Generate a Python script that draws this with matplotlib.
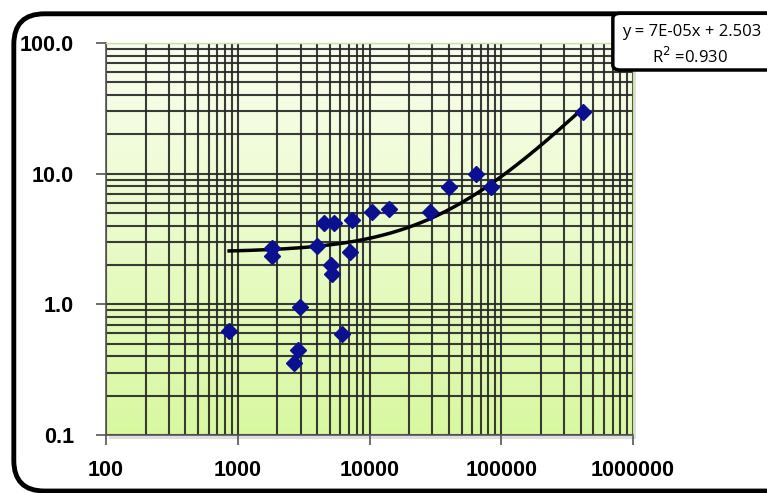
import numpy as np
import matplotlib
matplotlib.use('Agg')
from matplotlib import pyplot as plt
from matplotlib.patches import FancyBboxPatch, Rectangle
from matplotlib.ticker import FixedLocator, LogLocator, NullFormatter

# values
x_vals = [860, 1820, 1820, 2970, 2870, 2670, 4000, 4520, 5380, 5100, 5150,
          7370, 7110, 6180, 10450, 14060, 28800, 40100, 64300, 83600, 417000]
y_vals = [0.625, 2.70, 2.35, 0.955, 0.448, 0.356, 2.80, 4.2, 4.2, 2.0, 1.71,
          4.42, 2.52, 0.594, 5.09, 5.37, 5.09, 7.91, 9.95, 7.91, 29.6]

slope = 7e-05
intercept = 2.503
r2_text = '0.930'

x_ticks = [100, 1000, 10000, 100000, 1000000]
x_labels = ['100', '1000', '10000', '100000', '1000000']
y_ticks = [0.1, 1.0, 10.0, 100.0]
y_labels = ['0.1', '1.0', '10.0', '100.0']


def main():
    plt.rcParams['font.family'] = ['Liberation Sans', 'DejaVu Sans']

    fig = plt.figure(figsize=(7.67, 4.93), dpi=100)
    ax = fig.add_axes([0.1382, 0.1176, 0.6871, 0.7952])
    ax.set_zorder(2)

    # shadow behind the plot area
    fig.patches.append(Rectangle((0.1382 + 0.004, 0.1176 - 0.008), 0.6871, 0.7952,
                                 transform=fig.transFigure, facecolor='#c8c8c8',
                                 edgecolor='none', alpha=0.6, zorder=1))

    # green gradient background
    grad = np.linspace(0, 1, 256).reshape(-1, 1)
    top = np.array([250, 254, 240]) / 255
    bottom = np.array([216, 248, 160]) / 255
    img = bottom + (top - bottom) * grad
    img = img.reshape(256, 1, 3)
    ax.imshow(img, extent=[0, 1, 0, 1], transform=ax.transAxes, aspect='auto',
              origin='lower', zorder=0)

    ax.set_xscale('log')
    ax.set_yscale('log')
    ax.set_xlim(100, 1000000)
    ax.set_ylim(0.1, 100)

    ax.xaxis.set_major_locator(FixedLocator(x_ticks))
    ax.yaxis.set_major_locator(FixedLocator(y_ticks))
    ax.set_xticklabels(x_labels)
    ax.set_yticklabels(y_labels)
    ax.xaxis.set_minor_locator(LogLocator(base=10, subs=np.arange(2, 10)))
    ax.yaxis.set_minor_locator(LogLocator(base=10, subs=np.arange(2, 10)))
    ax.xaxis.set_minor_formatter(NullFormatter())
    ax.yaxis.set_minor_formatter(NullFormatter())

    ax.grid(True, which='both', color='#262626', linewidth=1.5, alpha=0.9)
    ax.tick_params(which='major', length=7, width=1.2, color='#555555',
                   labelsize=15.5)
    ax.tick_params(axis='x', which='major', pad=11)
    ax.tick_params(axis='y', which='major', pad=16)
    ax.tick_params(which='minor', length=0)
    for lab in ax.get_xticklabels() + ax.get_yticklabels():
        lab.set_fontweight('bold')

    for side in ['top', 'right']:
        ax.spines[side].set_color('#c8e49a')
        ax.spines[side].set_linewidth(1)
    for side in ['left', 'bottom']:
        ax.spines[side].set_color('#555555')
        ax.spines[side].set_linewidth(1.2)

    # linear trendline drawn on the log axes
    xt = np.logspace(np.log10(min(x_vals)), np.log10(max(x_vals)), 200)
    ax.plot(xt, slope * xt + intercept, color='black', linewidth=2.5, zorder=3)

    ax.plot(x_vals, y_vals, linestyle='none', marker='D', markersize=8,
            color='#0a1090', markeredgecolor='#0a1090', zorder=4)

    # rounded chart border
    fig.patches.append(FancyBboxPatch((0.018, 0.004), 1.2, 0.968,
                                      boxstyle='round,pad=0,rounding_size=0.04',
                                      transform=fig.transFigure, facecolor='none',
                                      edgecolor='black', linewidth=3.5,
                                      mutation_aspect=767 / 493, zorder=5))

    # equation box
    fig.patches.append(FancyBboxPatch((0.799, 0.858), 0.3, 0.115,
                                      boxstyle='round,pad=0,rounding_size=0.01',
                                      transform=fig.transFigure, facecolor='white',
                                      edgecolor='black', linewidth=2.5, zorder=6))
    fig.text(0.902, 0.935, f'y = 7E-05x + {intercept}', ha='center', va='center',
             fontsize=12, family=['Open Sans', 'DejaVu Sans'], zorder=7)
    fig.text(0.900, 0.885, f'R$^2$ =' + r2_text, ha='center', va='center',
             fontsize=12, family=['Open Sans', 'DejaVu Sans'], zorder=7)

    fig.savefig('out.png', dpi=100)


if __name__ == '__main__':
    main()
